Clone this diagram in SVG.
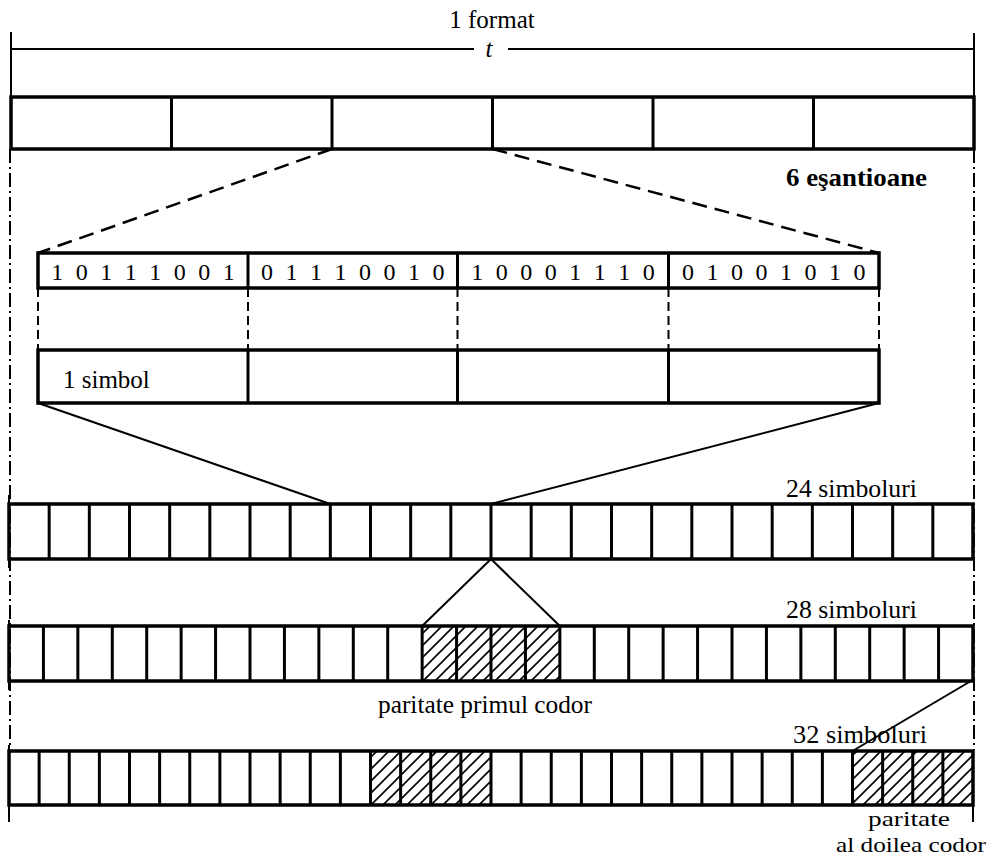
<svg xmlns="http://www.w3.org/2000/svg" width="987" height="860" viewBox="0 0 987 860">
<style>
text{font-family:'Liberation Serif','DejaVu Serif','Times New Roman',serif;font-size:25px;fill:#000}
.bits{font-size:24px;text-anchor:middle}
.small{font-size:21px}
.box{fill:none;stroke:#000;stroke-width:3.5}
.div{fill:none;stroke:#000;stroke-width:3}
.thin{fill:none;stroke:#000;stroke-width:2}
.dash{fill:none;stroke:#000;stroke-width:2.5;stroke-dasharray:15 8}
.vdash{fill:none;stroke:#000;stroke-width:2;stroke-dasharray:9 5}
.dashdot{fill:none;stroke:#000;stroke-width:2;stroke-dasharray:14 4 2 4}
</style>
<defs>
<pattern id="hatch" patternUnits="userSpaceOnUse" width="12" height="12">
<path d="M-1,13 L13,-1 M-3,3 L3,-3 M9,15 L15,9" stroke="#000" stroke-width="1.6"/>
</pattern>
</defs>
<rect width="987" height="860" fill="#fff"/>

<g id="frame">
<path class="thin" d="M11,32 V97 M974,33 V97"/>
<path class="thin" d="M11,49 H474 M508,49 H974"/>
<text x="492" y="28" text-anchor="middle">1 format</text>
<text x="489" y="57" text-anchor="middle" font-style="italic">t</text>
<path class="dashdot" d="M10,149 V745"/>
<path class="dashdot" d="M974,149 V750"/>
<path class="thin" d="M9,495 V568 M9,620 V690 M9,745 V822 M973,805 V822"/>
</g>

<g id="samples">
<rect class="box" x="11" y="97" width="963" height="52"/>
<path class="div" d="M171.5,97 V149 M332,97 V149 M492.5,97 V149 M653,97 V149 M813.5,97 V149"/>
<text x="927" y="186" text-anchor="end" font-weight="bold" textLength="141" lengthAdjust="spacingAndGlyphs">6 eşantioane</text>
</g>

<g id="bits">
<rect class="box" x="38" y="253" width="841" height="35"/>
<path class="div" d="M248,253 V288 M457.5,253 V288 M668.5,253 V288"/>
<text class="bits" x="57.3 81.8 106.3 130.8 155.3 179.8 204.3 228.8" y="280">10111001</text>
<text class="bits" x="267 291.5 316 340.5 365 389.5 414 438.5" y="280">01110010</text>
<text class="bits" x="477.3 501.8 526.3 550.8 575.3 599.8 624.3 648.8" y="280">10001110</text>
<text class="bits" x="688 712.5 737 761.5 786 810.5 835 859.5" y="280">01001010</text>
</g>

<g id="symbols">
<rect class="box" x="38" y="350" width="841" height="53"/>
<path class="div" d="M248,350 V403 M457.5,350 V403 M668.5,350 V403"/>
<text x="63" y="388">1 simbol</text>
</g>

<g id="row24">
<rect class="box" x="9" y="504" width="964" height="55"/>
<path class="div" d="M49.17,504V559M89.33,504V559M129.5,504V559M169.67,504V559M209.83,504V559M250,504V559M290.17,504V559M330.33,504V559M370.5,504V559M410.67,504V559M450.83,504V559M491,504V559M531.17,504V559M571.33,504V559M611.5,504V559M651.67,504V559M691.83,504V559M732,504V559M772.17,504V559M812.33,504V559M852.5,504V559M892.67,504V559M932.83,504V559"/>
<text x="917" y="497" text-anchor="end" textLength="131" lengthAdjust="spacingAndGlyphs">24 simboluri</text>
</g>

<g id="row28">
<rect x="422.14" y="626" width="137.72" height="55" fill="url(#hatch)"/>
<rect class="box" x="9" y="626" width="964" height="55"/>
<path class="div" d="M43.43,626V681M77.86,626V681M112.29,626V681M146.71,626V681M181.14,626V681M215.57,626V681M250,626V681M284.43,626V681M318.86,626V681M353.29,626V681M387.71,626V681M422.14,626V681M456.57,626V681M491,626V681M525.43,626V681M559.86,626V681M594.29,626V681M628.71,626V681M663.14,626V681M697.57,626V681M732,626V681M766.43,626V681M800.86,626V681M835.29,626V681M869.71,626V681M904.14,626V681M938.57,626V681"/>
<text x="917" y="618" text-anchor="end" textLength="131" lengthAdjust="spacingAndGlyphs">28 simboluri</text>
<text x="485" y="713" text-anchor="middle" textLength="214" lengthAdjust="spacingAndGlyphs">paritate primul codor</text>
</g>

<g id="row32">
<rect x="370.5" y="751" width="120.5" height="54" fill="url(#hatch)"/>
<rect x="852.5" y="751" width="120.5" height="54" fill="url(#hatch)"/>
<rect class="box" x="9" y="751" width="964" height="54"/>
<path class="div" d="M39.13,751V805M69.25,751V805M99.38,751V805M129.5,751V805M159.63,751V805M189.75,751V805M219.88,751V805M250,751V805M280.13,751V805M310.25,751V805M340.38,751V805M370.5,751V805M400.63,751V805M430.75,751V805M460.88,751V805M491,751V805M521.13,751V805M551.25,751V805M581.38,751V805M611.5,751V805M641.63,751V805M671.75,751V805M701.88,751V805M732,751V805M762.13,751V805M792.25,751V805M822.38,751V805M852.5,751V805M882.63,751V805M912.75,751V805M942.88,751V805"/>
<text x="927" y="743" text-anchor="end" textLength="134" lengthAdjust="spacingAndGlyphs">32 simboluri</text>
<text class="small" x="909" y="826" text-anchor="middle" textLength="82" lengthAdjust="spacingAndGlyphs">paritate</text>
<text class="small" x="911" y="852" text-anchor="middle" textLength="150" lengthAdjust="spacingAndGlyphs">al doilea codor</text>
</g>

<g id="connectors">
<path class="dash" d="M332,149 L38,253"/>
<path class="dash" d="M492.5,149 L879,253"/>
<path class="vdash" d="M38,288 V350 M248,288 V350 M457.5,288 V350 M668.5,288 V350 M879,288 V350"/>
<path class="thin" d="M38,403 L330.33,504"/>
<path class="thin" d="M879,403 L491,504"/>
<path class="thin" d="M491,559 L422.14,626"/>
<path class="thin" d="M491,559 L559.86,626"/>
<path class="thin" d="M971,681 L852.5,751"/>
</g>
</svg>
